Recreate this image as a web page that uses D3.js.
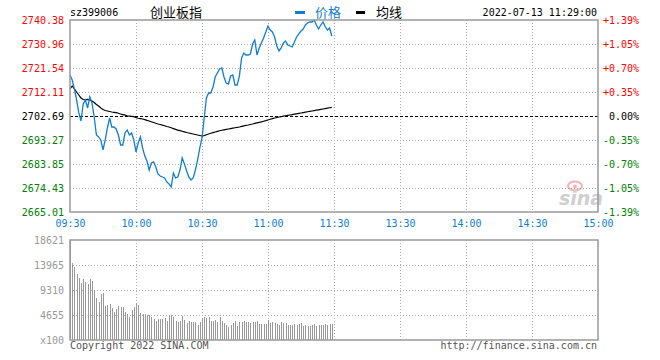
<!DOCTYPE html>
<html lang="zh-CN">
<head>
<meta charset="UTF-8">
<title>创业板指 分时</title>
<style>
  body { margin: 0; background: #fff; }
  svg text { font-family: "DejaVu Sans Mono", monospace; font-size: 10px; }
  svg .cjk { font-family: "Noto Sans CJK SC", sans-serif; font-size: 13px; }
</style>
<script src="https://cdn.jsdelivr.net/npm/d3@7"></script>
</head>
<body>
<script>
// header
const code = "sz399006";
const title = "创业板指";
const stamp = "2022-07-13 11:29:00";
const legendNames = ["价格", "均线"];
const preClose = 2702.69;

// axis labels
const priceTicks = [2665.01, 2674.43, 2683.85, 2693.27, 2702.69, 2712.11, 2721.54, 2730.96, 2740.38];
const pctTicks = ["-1.39%", "-1.05%", "-0.70%", "-0.35%", "0.00%", "+0.35%", "+0.70%", "+1.05%", "+1.39%"];
const timeLabels = ["09:30", "10:00", "10:30", "11:00", "11:30", "13:30", "14:00", "14:30", "15:00"];
const volTicks = [0, 4655, 9310, 13965, 18621];

// one value per minute, 09:30 .. 11:29
const price = [
  2718.79, 2716.83, 2713.30, 2708.98, 2703.88, 2700.74, 2707.41, 2708.98, 2705.84, 2710.16,
  2707.80, 2702.31, 2695.24, 2694.46, 2693.28, 2689.36, 2693.28, 2697.99, 2701.92, 2698.38,
  2698.38, 2697.60, 2695.24, 2691.32, 2691.32, 2696.03, 2697.21, 2695.24, 2696.03, 2693.28,
  2688.57, 2692.10, 2694.46, 2690.14, 2686.97, 2685.04, 2681.48, 2684.25, 2684.65, 2682.68,
  2679.94, 2679.15, 2678.76, 2678.36, 2676.80, 2676.01, 2674.83, 2680.33, 2678.36, 2678.76,
  2681.48, 2686.21, 2683.88, 2681.11, 2678.76, 2677.58, 2678.36, 2681.48, 2685.43, 2690.14,
  2694.07, 2701.92, 2709.77, 2711.73, 2711.73, 2714.08, 2718.01, 2719.58, 2721.16, 2721.54,
  2718.01, 2715.65, 2715.26, 2718.40, 2718.79, 2714.87, 2714.87, 2718.40, 2725.47, 2727.43,
  2726.64, 2726.64, 2727.04, 2730.96, 2732.53, 2726.64, 2729.39, 2731.35, 2733.32, 2735.67,
  2738.02, 2736.45, 2735.67, 2733.71, 2730.17, 2728.21, 2729.39, 2731.35, 2732.14, 2730.57,
  2730.17, 2729.78, 2731.74, 2733.71, 2734.89, 2736.06, 2736.85, 2738.42, 2739.20, 2739.60,
  2739.60, 2740.38, 2738.42, 2736.85, 2738.42, 2739.60, 2737.84, 2736.45, 2737.24, 2734.10
];
const avgPrice = [
  2713.30, 2714.49, 2713.30, 2712.12, 2710.94, 2709.77, 2709.18, 2708.98, 2709.18, 2708.98,
  2708.59, 2708.00, 2707.21, 2706.62, 2705.84, 2705.25, 2704.86, 2704.66, 2704.47, 2704.27,
  2704.15, 2703.99, 2703.76, 2703.48, 2703.25, 2703.01, 2702.78, 2702.66, 2702.54, 2702.43,
  2702.11, 2701.80, 2701.68, 2701.52, 2701.25, 2700.97, 2700.74, 2700.46, 2700.15, 2699.83,
  2699.56, 2699.36, 2699.09, 2698.85, 2698.58, 2698.38, 2698.07, 2697.75, 2697.44, 2697.17,
  2696.93, 2696.70, 2696.46, 2696.22, 2696.03, 2695.83, 2695.63, 2695.44, 2695.24, 2695.04,
  2694.85, 2695.00, 2695.32, 2695.63, 2695.91, 2696.18, 2696.42, 2696.65, 2696.89, 2697.09,
  2697.28, 2697.44, 2697.60, 2697.75, 2697.91, 2698.07, 2698.23, 2698.38, 2698.62, 2698.82,
  2699.01, 2699.17, 2699.36, 2699.56, 2699.80, 2699.99, 2700.19, 2700.39, 2700.62, 2700.86,
  2701.13, 2701.41, 2701.68, 2701.92, 2702.11, 2702.31, 2702.47, 2702.62, 2702.78, 2702.93,
  2703.09, 2703.25, 2703.40, 2703.56, 2703.72, 2703.87, 2704.03, 2704.19, 2704.35, 2704.50,
  2704.66, 2704.82, 2704.97, 2705.13, 2705.29, 2705.45, 2705.60, 2705.76, 2705.92, 2706.07
];
// volume, x100
const volume = [
  18621, 14390, 13650, 12290, 11600, 10560, 11360, 10860, 10370, 11360,
  10990, 9310, 7770, 7130, 8570, 8810, 6390, 6520, 6700, 6020,
  5270, 5720, 6390, 6200, 6200, 5270, 4840, 4340, 5590, 6200,
  6830, 6520, 4970, 4790, 4790, 4660, 4660, 4340, 3860, 3540,
  3860, 3910, 3860, 4040, 3590, 4660, 4660, 4340, 3540, 3300,
  3540, 4470, 3720, 3110, 3540, 3410, 3410, 3300, 2790, 3300,
  4150, 4340, 4040, 4340, 3540, 3540, 3720, 3410, 4340, 3540,
  3110, 2790, 2480, 2790, 3110, 3540, 2670, 3300, 3410, 3540,
  3300, 3410, 3110, 3300, 3410, 3540, 2920, 2920, 2920, 2920,
  3720, 3110, 3410, 3110, 2920, 2790, 3300, 3110, 3110, 2790,
  2790, 2790, 2920, 2790, 2980, 3170, 2610, 2790, 2670, 2670,
  2790, 2920, 2670, 2790, 2790, 2790, 2920, 2790, 2980, 2980
];

const W = 660, H = 360;
const L = 70, R = 598;
const pTop = 20, pBot = 212, vTop = 240, vBot = 340;
const blue = "#0f7dd0", red = "#f00", green = "#008000", gridC = "#aaa", frameC = "#999";

const svg = d3.select("body").append("svg").attr("width", W).attr("height", H);

const x = d3.scaleLinear().domain([0, 240]).range([L, R]);
const y = d3.scaleLinear().domain([priceTicks[0], priceTicks[priceTicks.length - 1]]).range([pBot, pTop]);
const yv = d3.scaleLinear().domain([0, volTicks[volTicks.length - 1]]).range([vBot, vTop]);
const timeTicks = timeLabels.map((d, i) => i * 30);

// grid lines
const grid = svg.append("g").attr("stroke", gridC).attr("stroke-dasharray", "1,2").attr("shape-rendering", "crispEdges");
grid.selectAll("line.ph")
  .data(priceTicks.filter(d => d !== preClose).slice(1, -1))
  .join("line")
  .attr("x1", L).attr("x2", R)
  .attr("y1", d => Math.round(y(d)) + 0.5).attr("y2", d => Math.round(y(d)) + 0.5);
grid.selectAll("line.vh")
  .data(volTicks.slice(1, -1))
  .join("line").attr("class", "vh")
  .attr("x1", L).attr("x2", R)
  .attr("y1", d => Math.round(yv(d)) + 0.5).attr("y2", d => Math.round(yv(d)) + 0.5);
[[pTop, pBot], [vTop, vBot]].forEach(([a, b]) => {
  grid.append("g").selectAll("line")
    .data(timeTicks.slice(1, -1))
    .join("line")
    .attr("x1", d => Math.round(x(d)) + 0.5).attr("x2", d => Math.round(x(d)) + 0.5)
    .attr("y1", a).attr("y2", b);
});

// previous close line
svg.append("line")
  .attr("x1", L).attr("x2", R)
  .attr("y1", Math.round(y(preClose)) + 0.5).attr("y2", Math.round(y(preClose)) + 0.5)
  .attr("stroke", "#000").attr("stroke-dasharray", "3,2").attr("shape-rendering", "crispEdges");

// watermark
const wm = svg.append("g").attr("opacity", 0.6);
wm.append("ellipse").attr("cx", 575).attr("cy", 186).attr("rx", 7).attr("ry", 4.5)
  .attr("fill", "none").attr("stroke", "#f08080").attr("stroke-width", 2);
wm.append("circle").attr("cx", 575).attr("cy", 186.5).attr("r", 2).attr("fill", "#f08080");
wm.append("text").attr("x", 581).attr("y", 205).attr("text-anchor", "middle")
  .style("font-family", "'DejaVu Sans', sans-serif").style("font-size", "19px")
  .style("font-style", "italic").style("font-weight", "bold")
  .attr("fill", "#b0b0b0").text("sina");

// volume bars
svg.append("g").attr("fill", "#999").attr("shape-rendering", "crispEdges")
  .selectAll("rect")
  .data(volume)
  .join("rect")
  .attr("x", (d, i) => Math.round(x(i)))
  .attr("width", 1)
  .attr("y", d => yv(d))
  .attr("height", d => vBot - yv(d));

// price + average lines
const line = d3.line().x((d, i) => x(i)).y(d => y(d));
svg.append("path").datum(avgPrice).attr("d", line)
  .attr("fill", "none").attr("stroke", "#000").attr("stroke-width", 1.2);
svg.append("path").datum(price).attr("d", line)
  .attr("fill", "none").attr("stroke", blue).attr("stroke-width", 1.3);

// frames
[[pTop, pBot], [vTop, vBot]].forEach(([a, b]) => {
  svg.append("rect").attr("x", L).attr("y", a).attr("width", R - L).attr("height", b - a)
    .attr("fill", "none").attr("stroke", frameC).attr("stroke-width", 1.5);
});

const colorOf = d => d > preClose ? red : d < preClose ? green : "#000";

// left price axis
const gl = svg.append("g").attr("transform", `translate(${L},0)`)
  .call(d3.axisLeft(y).tickValues(priceTicks).tickSize(0).tickPadding(6).tickFormat(d3.format(".2f")));
gl.select(".domain").remove();
gl.selectAll("text").attr("fill", d => colorOf(d)).attr("font-family", null).attr("font-size", null);

// right percent axis
const gr = svg.append("g").attr("transform", `translate(${R},0)`)
  .call(d3.axisRight(y).tickValues(priceTicks).tickSize(0).tickFormat((d, i) => pctTicks[i]));
gr.select(".domain").remove();
gr.selectAll("text").attr("x", 41).attr("text-anchor", "end")
  .attr("fill", d => colorOf(d)).attr("font-family", null).attr("font-size", null);

// time axis
const gt = svg.append("g").attr("transform", `translate(0,${pBot})`)
  .call(d3.axisBottom(x).tickValues(timeTicks).tickSize(0).tickPadding(8).tickFormat((d, i) => timeLabels[i]));
gt.select(".domain").remove();
gt.selectAll("text").attr("fill", blue).attr("font-family", null).attr("font-size", null);

// volume axis
const gv = svg.append("g").attr("transform", `translate(${L},0)`)
  .call(d3.axisLeft(yv).tickValues(volTicks).tickSize(0).tickPadding(6)
    .tickFormat(d => d === 0 ? "x100" : d));
gv.select(".domain").remove();
gv.selectAll("text").attr("fill", "#999").attr("font-family", null).attr("font-size", null);

// header
svg.append("text").attr("x", L).attr("y", 16).attr("fill", "#000").text(code);
svg.append("text").attr("class", "cjk").attr("x", 150).attr("y", 17).attr("fill", "#000").text(title);
svg.append("rect").attr("x", 295).attr("y", 11).attr("width", 10).attr("height", 3).attr("fill", blue);
svg.append("text").attr("class", "cjk").attr("x", 315).attr("y", 17).attr("fill", blue).text(legendNames[0]);
svg.append("rect").attr("x", 356).attr("y", 11).attr("width", 9).attr("height", 3).attr("fill", "#000");
svg.append("text").attr("class", "cjk").attr("x", 376).attr("y", 17).attr("fill", "#000").text(legendNames[1]);
svg.append("text").attr("x", 597).attr("y", 16).attr("text-anchor", "end").attr("fill", "#000").text(stamp);

// footer
svg.append("text").attr("x", L).attr("y", 349).attr("fill", "#555").text("Copyright 2022 SINA.COM");
svg.append("text").attr("x", 597).attr("y", 349).attr("text-anchor", "end").attr("fill", "#555").text("http://finance.sina.com.cn");
</script>
</body>
</html>
